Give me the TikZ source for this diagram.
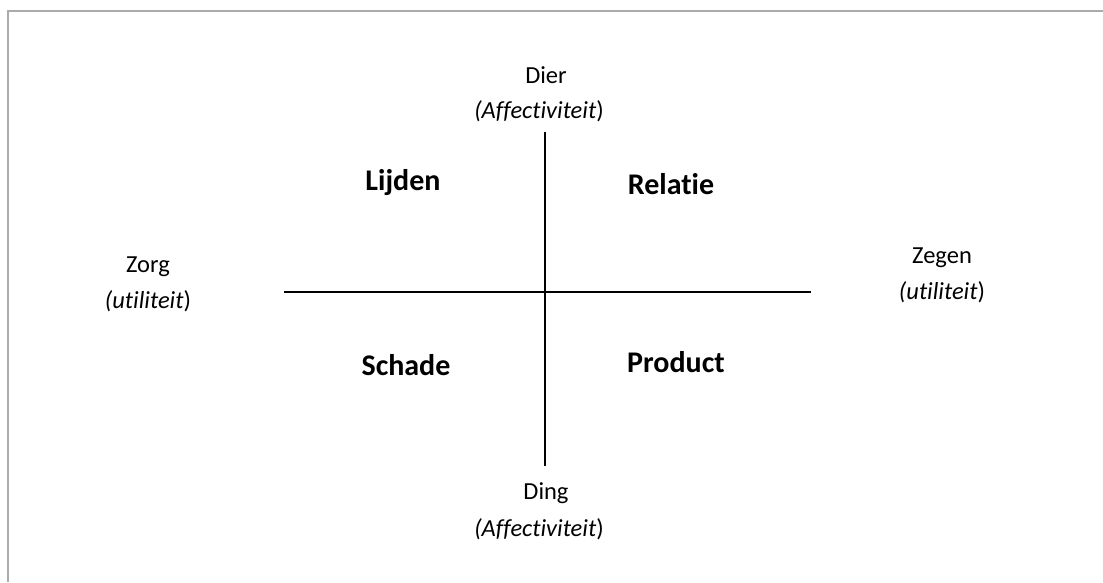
\documentclass[tikz,border=0pt]{standalone}
\usepackage{fontspec}
\setmainfont{Carlito}[Ligatures=NoCommon]
\begin{document}
\begin{tikzpicture}[x=1pt,y=-1pt,
  lbl/.style={font=\fontsize{24.5}{29}\selectfont, align=center, inner sep=0pt},
  quad/.style={font=\fontsize{30}{36}\selectfont\bfseries, inner sep=0pt},
  axis/.style={line width=1.5pt, black},
  frame/.style={line width=2pt, color=black!33}]
\useasboundingbox (0,0) rectangle (1103,582);
\draw[frame] (8,582) -- (8,11) -- (1103,11);
\coordinate (vt) at (545,132);
\coordinate (vb) at (545,466);
\coordinate (hl) at (284,292);
\coordinate (hr) at (811,292);
\draw[axis] (vt) -- (vb);
\draw[axis] (hl) -- (hr);
\node[lbl] (dier) at (546,75) {Dier};
\node[lbl] (dieraff) at (539,111) {\textit{(Affectiviteit})};
\node[lbl] (ding) at (546,493) {Ding};
\node[lbl] (dingaff) at (539,529) {\textit{(Affectiviteit})};
\node[lbl] (zorg) at (148,267) {Zorg};
\node[lbl] (zorgu) at (148,301) {\textit{(utiliteit})};
\node[lbl] (zegen) at (942,258) {Zegen};
\node[lbl] (zegenu) at (942,292) {\textit{(utiliteit})};
\node[quad] (lijden) at (403,183) {Lijden};
\node[quad] (relatie) at (671,184) {Relatie};
\node[quad] (schade) at (406,365) {Schade};
\node[quad] (product) at (676,362) {Product};
\end{tikzpicture}
\end{document}
